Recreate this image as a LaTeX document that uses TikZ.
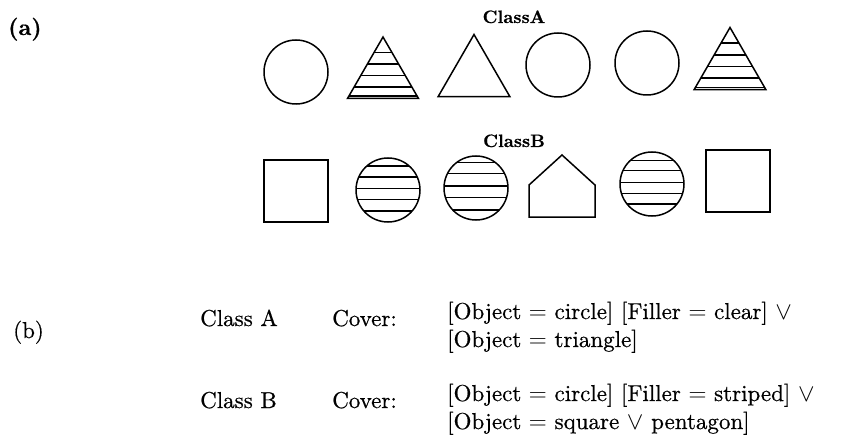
\documentclass[tikz,border=0pt]{standalone}
\usepackage{fontspec}
\setmainfont{lmroman10-regular.otf}[BoldFont=lmroman10-bold.otf, FakeBold=0.6]
\usetikzlibrary{shapes.geometric,calc}

\tikzset{
  outline/.style={draw=black, line width=1.5pt},
  ring/.style={outline, circle, minimum size=64pt, inner sep=0pt},
  tri/.style={outline, regular polygon, regular polygon sides=3, minimum size=83pt, inner sep=0pt},
  box/.style={outline, rectangle, minimum width=64pt, minimum height=62pt, inner sep=0pt},
  hatch/.style={path picture={
      \foreach \f in {#1}
        \draw[line width=1.5pt]
          ($(path picture bounding box.north west)!\f!(path picture bounding box.south west)$) --
          ($(path picture bounding box.north east)!\f!(path picture bounding box.south east)$);}},
  classname/.style={font=\fontsize{18}{22}\selectfont\bfseries, inner sep=0pt, anchor=base},
  bodytext/.style={font=\fontsize{23}{27}\selectfont, inner sep=0pt, anchor=base west},
}

\begin{document}
\begin{tikzpicture}[x=1pt, y=-1pt]
    \useasboundingbox (0,0) rectangle (841,441);

    % part (a)
    \node[bodytext, font=\fontsize{23}{27}\selectfont\bfseries] (parta) at (8,35) {(a)};

    \node[classname] (classA) at (514,23) {ClassA};
    \node[ring] (a1) at (296,72) {};
    \node[tri, hatch={0.25,0.44,0.63,0.81,0.96}, minimum size=82pt] (a2) at (383,78) {};
    \node[tri] (a3) at (474,76) {};
    \node[ring] (a4) at (558,65) {};
    \node[ring] (a5) at (647,63) {};
    \node[tri, hatch={0.25,0.44,0.63,0.81,0.96}] (a6) at (730,69) {};

    \node[classname] (classB) at (514,147) {ClassB};
    \node[box] (b1) at (296,191) {};
    \node[ring, hatch={0.125,0.30,0.475,0.65,0.825}] (b2) at (388,190) {};
    \node[ring, hatch={0.10,0.27,0.47,0.65,0.84}] (b3) at (476,188) {};
    \coordinate (p1) at (529,217);
    \coordinate (p2) at (529,185);
    \coordinate (p3) at (562,155);
    \coordinate (p4) at (595,185);
    \coordinate (p5) at (595,217);
    \draw[outline, line join=miter] (p1) -- (p2) -- (p3) -- (p4) -- (p5) -- cycle;
    \node[ring, hatch={0.13,0.29,0.475,0.645,0.815}] (b5) at (652,184) {};
    \node[box] (b6) at (738,181) {};

    % part (b)
    \node[bodytext] (partb) at (13,338) {(b)};

    \node[bodytext] (nameA) at (200,326) {Class A};
    \node[bodytext] (coverA) at (332,326) {Cover:};
    \node[bodytext] (ruleA1) at (447,319) {[Object $=$ circle] [Filler $=$ clear] $\vee$};
    \node[bodytext] (ruleA2) at (447,347) {[Object $=$ triangle]};

    \node[bodytext] (nameB) at (200,408) {Class B};
    \node[bodytext] (coverB) at (332,408) {Cover:};
    \node[bodytext] (ruleB1) at (447,401) {[Object $=$ circle] [Filler $=$ striped] $\vee$};
    \node[bodytext] (ruleB2) at (447,429) {[Object $=$ square $\vee$ pentagon]};
\end{tikzpicture}
\end{document}
